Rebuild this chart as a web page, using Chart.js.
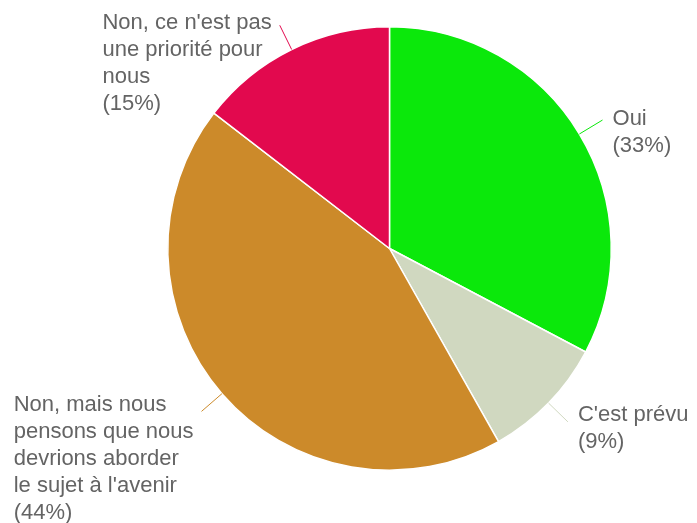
<!DOCTYPE html>
<html>
<head>
<meta charset="utf-8">
<script src="https://cdn.jsdelivr.net/npm/chart.js@4.4.1/dist/chart.umd.min.js"></script>
<style>
  html, body { margin: 0; padding: 0; background: #ffffff; }
  #wrap { width: 697px; height: 523px; }
</style>
</head>
<body>
<div id="wrap"><canvas id="c" width="697" height="523"></canvas></div>
<script>
const categories = [
  ["Oui"],
  ["C'est prévu"],
  ["Non, mais nous", "pensons que nous", "devrions aborder", "le sujet à l'avenir"],
  ["Non, ce n'est pas", "une priorité pour", "nous"]
];
const counts = [18, 5, 24, 8];
const percentLabels = ["(33%)", "(9%)", "(44%)", "(15%)"];
const sliceColors = ["#0be80b", "#d0d8c0", "#cc8a2a", "#e2094e"];

const labelPlugin = {
  id: 'outerLabels',
  afterDatasetsDraw(chart) {
    const ctx = chart.ctx;
    const meta = chart.getDatasetMeta(0);
    const fontSize = 22;
    const lineH = 27;
    const lead = 27;
    const dyTweak = [4, -2, -1, 3];
    ctx.save();
    ctx.font = fontSize + 'px "Liberation Sans", Arial, sans-serif';
    ctx.textBaseline = 'alphabetic';
    meta.data.forEach((arc, i) => {
      const p = arc.getProps(['x', 'y', 'startAngle', 'endAngle', 'outerRadius'], true);
      const mid = (p.startAngle + p.endAngle) / 2;
      const cx = Math.cos(mid), cy = Math.sin(mid);
      const sx = p.x + cx * p.outerRadius, sy = p.y + cy * p.outerRadius;
      const ex = p.x + cx * (p.outerRadius + lead), ey = p.y + cy * (p.outerRadius + lead);
      ctx.strokeStyle = sliceColors[i];
      ctx.lineWidth = 1;
      ctx.beginPath();
      ctx.moveTo(sx, sy);
      ctx.lineTo(ex, ey);
      ctx.stroke();
      const lines = categories[i].concat([percentLabels[i]]);
      let maxW = 0;
      lines.forEach(l => { maxW = Math.max(maxW, ctx.measureText(l).width); });
      const left = cx >= 0 ? ex + 10 : ex - 8 - maxW;
      ctx.fillStyle = '#646464';
      ctx.textAlign = 'left';
      lines.forEach((l, k) => {
        ctx.fillText(l, left, ey + 1 + dyTweak[i] + k * lineH);
      });
    });
    ctx.restore();
  }
};

new Chart(document.getElementById('c'), {
  type: 'pie',
  data: {
    labels: categories.map(c => c.join(' ')),
    datasets: [{
      data: counts,
      backgroundColor: sliceColors,
      borderColor: '#ffffff',
      borderWidth: 1.5
    }]
  },
  options: {
    responsive: false,
    animation: false,
    devicePixelRatio: 1,
    layout: { padding: { left: 167, right: 85, top: 26, bottom: 52 } },
    plugins: {
      legend: { display: false },
      tooltip: { enabled: false }
    }
  },
  plugins: [labelPlugin]
});
</script>
</body>
</html>
